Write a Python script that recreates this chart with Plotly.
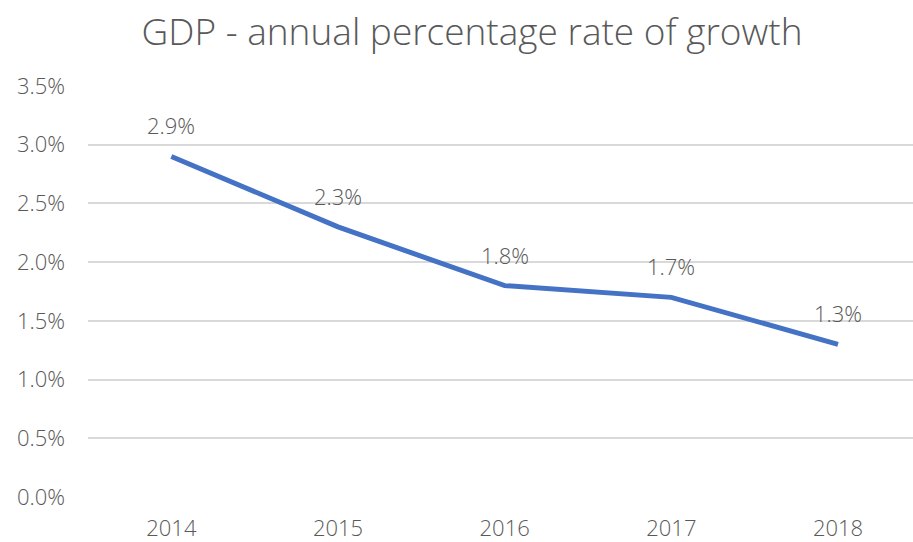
import plotly.graph_objects as go

years = ["2014", "2015", "2016", "2017", "2018"]
growth = [2.9, 2.3, 1.8, 1.7, 1.3]
y_ticks = [0.0, 0.5, 1.0, 1.5, 2.0, 2.5, 3.0, 3.5]
y_tick_labels = [f"{v:.1f}%" for v in y_ticks]
point_labels = [f"{v:.1f}%" for v in growth]

FONT = "Open Sans"
GREY = "#595959"
TICK_FONT = dict(family=FONT, size=22, color=GREY, weight=300)

fig = go.Figure(
    go.Scatter(
        x=years,
        y=growth,
        mode="lines",
        line=dict(color="#4472C4", width=5),
        hoverinfo="skip",
    )
)

# value labels sit above each point of the line (category index on x)
for i, (val, lab) in enumerate(zip(growth, point_labels)):
    fig.add_annotation(
        x=i, y=val, xref="x", yref="y", text=lab, showarrow=False,
        yshift=31, font=TICK_FONT,
    )

fig.update_layout(
    width=913,
    height=542,
    paper_bgcolor="white",
    plot_bgcolor="white",
    margin=dict(l=88, r=0, t=86, b=42),
    showlegend=False,
    title=dict(
        text="GDP - annual percentage rate of growth",
        x=472 / 913,
        xanchor="center",
        y=1 - 32 / 542,
        yanchor="middle",
        font=dict(family=FONT, size=37, color=GREY, weight=300),
    ),
    xaxis=dict(
        type="category",
        range=[-0.5, 4.45],
        showgrid=False,
        showline=False,
        zeroline=False,
        ticks="",
        ticklabelstandoff=16,
        tickfont=TICK_FONT,
    ),
    yaxis=dict(
        range=[0, 3.5],
        tickvals=y_ticks,
        ticktext=y_tick_labels,
        showgrid=True,
        gridcolor="#D9D9D9",
        gridwidth=2,
        zeroline=False,
        showline=False,
        ticks="",
        ticklabelstandoff=22,
        tickfont=TICK_FONT,
    ),
)

fig.write_html("out.html")
